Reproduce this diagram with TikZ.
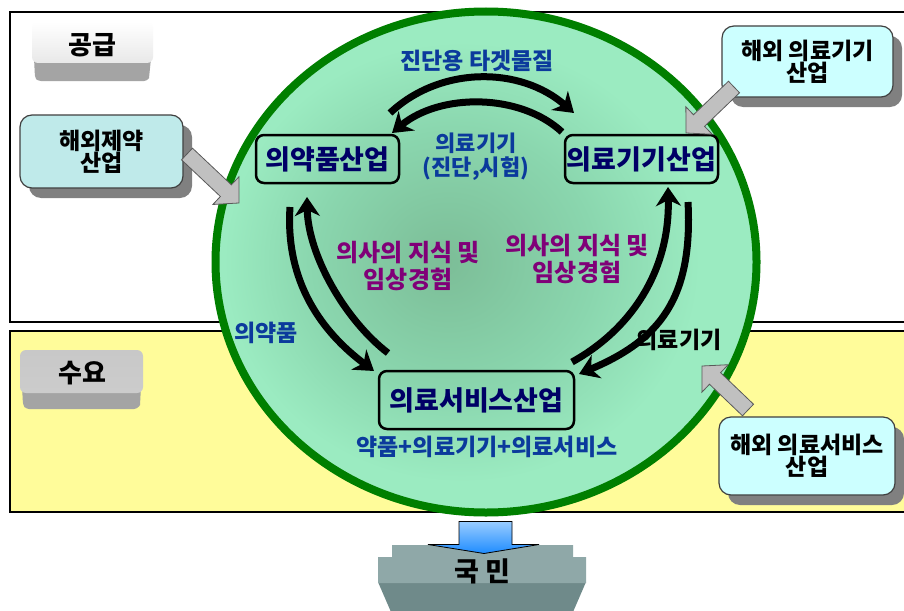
\documentclass[tikz,border=0pt]{standalone}
\usepackage{fontspec}
\setmainfont{Noto Sans CJK KR}
\usetikzlibrary{calc,shapes.geometric,arrows.meta}
\definecolor{ringgreen}{HTML}{007F00}
\definecolor{ringlight}{HTML}{9BEBC1}
\definecolor{ringmid}{HTML}{8AD6AE}
\definecolor{ringdark}{HTML}{7CBD97}
\definecolor{navytext}{HTML}{000066}
\definecolor{labblue}{HTML}{0B3A9C}
\definecolor{labpurple}{HTML}{800078}
\definecolor{demandyellow}{HTML}{FFFC9A}
\definecolor{extcyan}{HTML}{CCFFFF}
\definecolor{extcyanb}{HTML}{BFEAEA}
\definecolor{arrgray}{HTML}{C0C0C0}
\definecolor{shadowgray}{HTML}{808080}
\definecolor{peopleface}{HTML}{8FA8A8}
\definecolor{peoplelow}{HTML}{6F8A8A}
\definecolor{btnface}{HTML}{C8C8C8}
\definecolor{btnlow}{HTML}{A4A4A4}
\definecolor{bluetop}{HTML}{99CCFF}
\definecolor{bluebot}{HTML}{1E8CFF}
\pgfdeclareradialshading{ringshade}{\pgfpoint{-4bp}{0bp}}{color(0bp)=(ringdark); color(13bp)=(ringmid); color(22bp)=(ringlight); color(50bp)=(ringlight)}
\newcommand\fatarrow[2]{%
  \path let \p1=(#1), \p2=(#2) in \pgfextra{%
    \pgfmathsetmacro\fatangtmp{atan2(\y2-\y1,\x2-\x1)}%
    \pgfmathsetmacro\fatlentmp{veclen(\x2-\x1,\y2-\y1)}%
    \global\let\fatang\fatangtmp \global\let\fatlen\fatlentmp};
  \draw[fatarrowstyle, shift={(#1)}, rotate=\fatang, x=1pt, y=1pt]
    (0,-8) -- (\fatlen-18,-8) -- (\fatlen-18,-19) -- (\fatlen,0) --
    (\fatlen-18,19) -- (\fatlen-18,8) -- (0,8) -- cycle;
}
\begin{document}
\begin{tikzpicture}[x=1pt,y=-1pt,
  indbox/.style={draw=black, line width=2.5, rounded corners=8, text=navytext,
    font=\fontsize{27}{29}\selectfont\bfseries, inner sep=0},
  extbox/.style={draw=black!75, line width=1.2, rounded corners=12,
    font=\fontsize{23}{22}\selectfont\bfseries, align=center, inner sep=0},
  extshadow/.style={fill=shadowgray, rounded corners=12},
  bluelab/.style={text=labblue, font=\fontsize{23}{26}\selectfont\bfseries, align=center},
  purplab/.style={text=labpurple, font=\fontsize{24}{27}\selectfont\bfseries, align=center},
  flow/.style={line width=7, -{Stealth[length=19pt,width=25pt,inset=6pt]}},
  fatarrowstyle/.style={fill=arrgray, draw=black!65, line width=0.8, line join=miter},
  btntext/.style={font=\fontsize{26}{28}\selectfont\bfseries, text=black}]
\useasboundingbox (0,0) rectangle (904,610);
\fill[white] (0,0) rectangle (904,610);

% supply and demand regions
\draw[fill=white, line width=2.5] (10,12) rectangle (915,322);
\draw[fill=demandyellow, line width=2.5] (10,331) rectangle (915,512);

% buttons
\fill[btnlow] (34,58) -- (151,58) -- (149,78) [rounded corners=3] -- (147,81) -- (38,81) -- (35,78) -- cycle;
\shade[top color=white, bottom color=gray!18, rounded corners=6] (32,22) rectangle (153,63);
\node[btntext] (supply) at (92,45) {공급};
\fill[btnlow] (22,386) -- (141,386) -- (140,405) [rounded corners=3] -- (137,409) -- (26,409) -- (23,405) -- cycle;
\shade[top color=btnface, bottom color=gray!40, rounded corners=6] (20,350) rectangle (143,393);
\node[btntext] (demand) at (82,373) {수요};

% foreign boxes
\fill[extshadow] (29,125) rectangle (192,198);
\node[extbox, fill=extcyanb, minimum width=163, minimum height=73] (fpharma) at (101.5,151.5) {해외제약\\산업};
\fill[extshadow] (731,36) rectangle (902,107);
\node[extbox, fill=extcyan, minimum width=171, minimum height=71] (fdevice) at (807.5,61.5) {해외 의료기기\\산업};
\fill[extshadow] (728,427) rectangle (904,505);
\node[extbox, fill=extcyan, minimum width=176, minimum height=78] (fservice) at (807,456) {해외 의료서비스\\산업};

% the ring
\node[ellipse, draw=ringgreen, line width=8, shade, shading=ringshade,
  minimum width=541, minimum height=501, inner sep=0] (ring) at (486,262) {};

% industry boxes
\node[indbox, minimum width=143, minimum height=48] (pharma) at (327.5,159) {의약품산업};
\node[indbox, minimum width=153, minimum height=48] (device) at (641.5,159) {의료기기산업};
\node[indbox, minimum width=195, minimum height=58] (service) at (476.5,400) {의료서비스산업};

% labels
\node[bluelab] (ltarget) at (477,61) {진단용 타겟물질};
\node[bluelab, font=\fontsize{22}{24}\selectfont\bfseries] (ldevtest) at (476,157) {의료기기\\(진단,시험)};
\node[purplab] (lknowl) at (408,266) {의사의 지식 및\\임상경험};
\node[purplab] (lknowr) at (577,259) {의사의 지식 및\\임상경험};
\node[bluelab] (ldrug) at (266,333) {의약품};
\node[font=\fontsize{23}{26}\selectfont\bfseries, text=black] (ldevice) at (679,340) {의료기기};
\node[bluelab] (lsum) at (487,447) {약품+의료기기+의료서비스};

% curved flow arrows
\coordinate (t1s) at (390,113); \coordinate (t1e) at (574,113);
\coordinate (t2s) at (562,132); \coordinate (t2e) at (392,133);
\coordinate (l1s) at (290,207); \coordinate (l1e) at (374,371);
\coordinate (l2s) at (388,353); \coordinate (l2e) at (307,197);
\coordinate (r1s) at (688,202); \coordinate (r1e) at (579,374);
\coordinate (r2s) at (572,362); \coordinate (r2e) at (668,187);
\draw[flow] (t1s) .. controls (440,66) and (520,66) .. (t1e);
\draw[flow] (t2s) .. controls (520,93) and (440,93) .. (t2e);
\draw[flow] (l1s) .. controls (285,282) and (322,332) .. (l1e);
\draw[flow] (l2s) .. controls (345,320) and (308,255) .. (l2e);
\draw[flow] (r1s) .. controls (693,298) and (660,340) .. (r1e);
\draw[flow] (r2s) .. controls (630,330) and (670,272) .. (r2e);

% gray fat arrows from foreign industries
\coordinate (a1s) at (187,154); \coordinate (a1e) at (239,203);
\coordinate (a2s) at (734,87); \coordinate (a2e) at (686,133);
\coordinate (a3s) at (748,410); \coordinate (a3e) at (702,366);
\fatarrow{a1s}{a1e}
\fatarrow{a2s}{a2e}
\fatarrow{a3s}{a3e}

% nation
\fill[peoplelow] (378,582) -- (586,582) -- (573,612) -- (391,612) -- cycle;
\fill[peopleface] (392,545) -- (573,545) -- (573,557) -- (586,557) -- (586,583)
  -- (378,583) -- (378,557) -- (392,557) -- cycle;
\node[btntext, font=\fontsize{27}{29}\selectfont\bfseries] (people) at (482,571) {국 민};
\coordinate (bluetop) at ($(ring.south)+(0,5)$);
\shade[top color=bluetop, bottom color=bluebot, draw=black, line width=0.8]
  ($(bluetop)+(-27,0)$) -- ($(bluetop)+(26,0)$) -- ($(bluetop)+(26,23)$) -- ($(bluetop)+(53,23)$)
  -- ($(bluetop)+(-2,32)$) -- ($(bluetop)+(-58,23)$) -- ($(bluetop)+(-27,23)$) -- cycle;
\end{tikzpicture}
\end{document}
